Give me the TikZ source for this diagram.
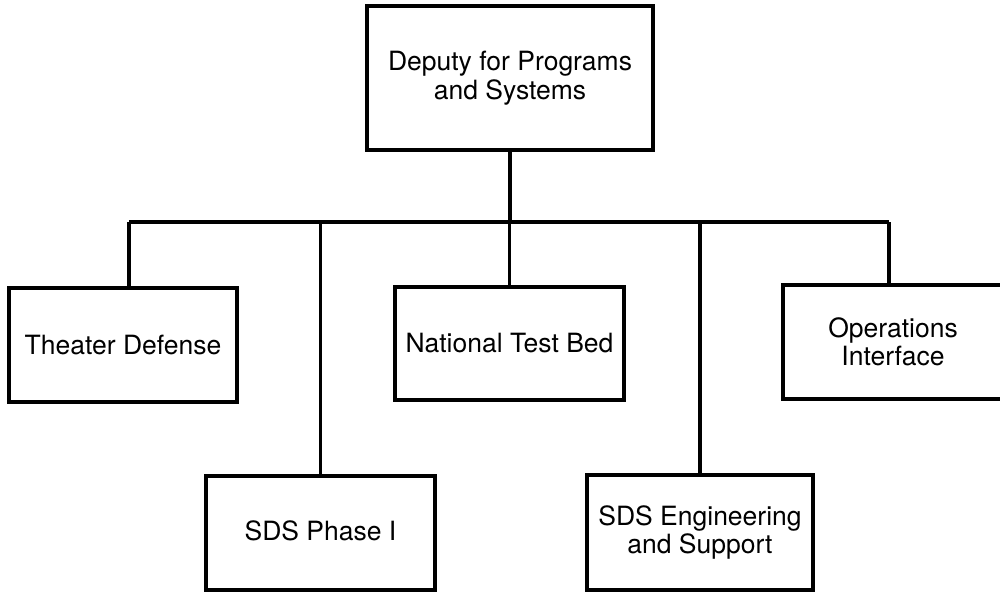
\documentclass[tikz,border=0pt]{standalone}
\usepackage{fontspec}
\setmainfont{TeX Gyre Heros}
\begin{document}
\begin{tikzpicture}[x=1pt,y=-1pt,
  orgbox/.style={draw=black, line width=3.2pt, fill=white, rectangle, inner sep=0pt,
    align=center, font=\fontsize{26.5}{28.5}\selectfont},
  conn/.style={draw=black, line width=3.2pt}]
\useasboundingbox (0,0) rectangle (1000,592);
\begin{scope}
\clip (0,0) rectangle (1000,592);
\node[orgbox, minimum width=286pt, minimum height=144pt] (top) at (510,78) {Deputy for Programs\\and Systems};
\node[orgbox, minimum width=228pt, minimum height=114pt] (td) at (123,345) {Theater Defense};
\node[orgbox, minimum width=229pt, minimum height=113pt] (ntb) at (509.5,343.5) {National Test Bed};
\node[orgbox, minimum width=220pt, minimum height=114pt] (ops) at (893,342) {Operations\\Interface};
\node[orgbox, minimum width=229pt, minimum height=114pt] (sds) at (320.5,533) {\raisebox{5pt}{SDS Phase I}};
\node[orgbox, minimum width=226pt, minimum height=115pt] (eng) at (700,532.5) {SDS Engineering\\and Support};
\coordinate (busL) at (129,222);
\coordinate (busR) at (889,222);
\draw[conn] (top.south) -- (top.south |- busL);
\draw[conn] (busL) -- (busR);
\draw[conn] (busL) -- (busL |- td.north);
\draw[conn] (sds.north |- busL) -- (sds.north);
\draw[conn] (ntb.north |- busL) -- (ntb.north);
\draw[conn] (eng.north |- busL) -- (eng.north);
\draw[conn] (busR) -- (busR |- ops.north);
\end{scope}
\end{tikzpicture}
\end{document}
